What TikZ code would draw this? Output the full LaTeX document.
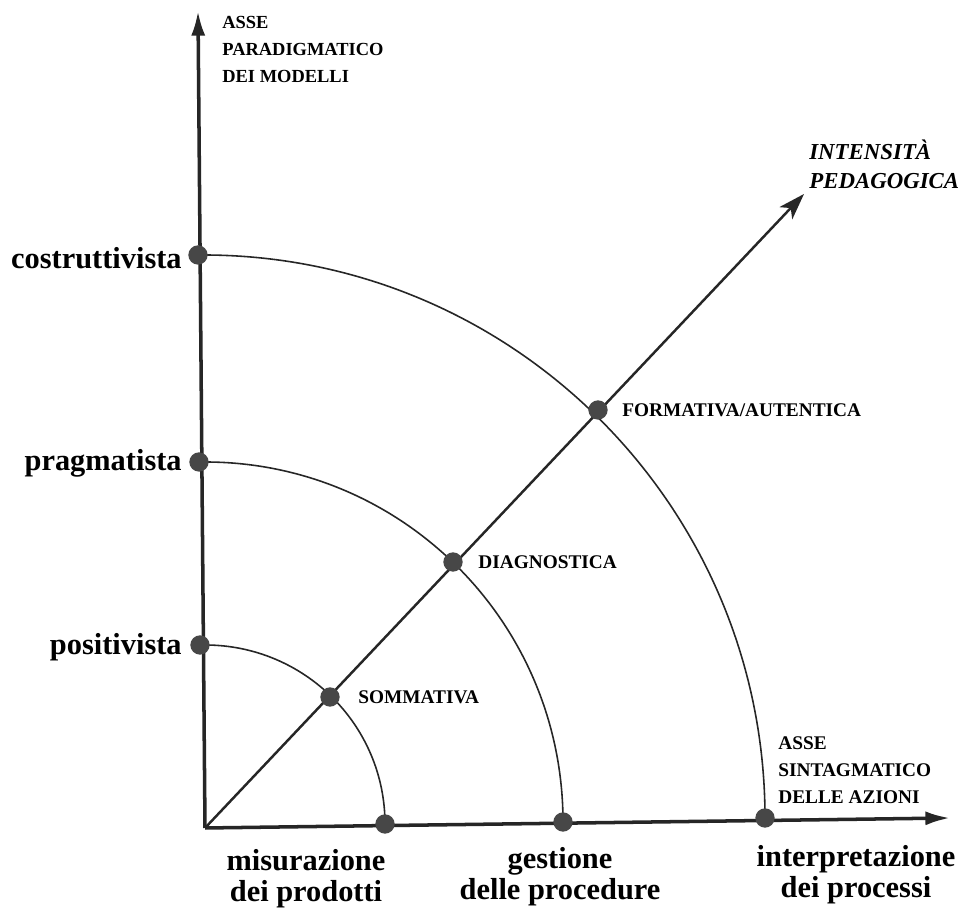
\documentclass[tikz,border=0pt]{standalone}
\usepackage{fontspec}
\setmainfont{Liberation Serif}
\usetikzlibrary{arrows.meta}
\definecolor{ink}{HTML}{262626}
\definecolor{dotc}{HTML}{474747}
\begin{document}
\begin{tikzpicture}[x=0.02cm,y=0.02cm,
  axisline/.style={draw=ink,line width=2pt,-{Latex[length=14pt,width=8pt]}},
  diagline/.style={draw=ink,line width=1.4pt,-{Stealth[length=15pt,width=10pt,inset=4pt]}},
  arcline/.style={draw=ink,line width=0.9pt},
  pt/.style={circle,fill=dotc,inner sep=0pt,minimum size=11pt},
  biglab/.style={font=\fontsize{17.3}{17}\selectfont\bfseries,inner sep=0pt},
  caplab/.style={font=\fontsize{11}{15.3}\selectfont\bfseries,inner sep=0pt},
  itlab/.style={font=\fontsize{13}{16.4}\selectfont\bfseries\itshape,inner sep=0pt}]
\useasboundingbox (0,0) rectangle (963,908);
\fill[white] (0,0) rectangle (963,908);
% axis ends
\coordinate (O) at (205,80);
\coordinate (Ytip) at (198,897);
\coordinate (Xtip) at (950,90);
\coordinate (Dtip) at (804,714);
% arcs
\coordinate (x1) at (385,84);
\coordinate (x2) at (563,86);
\coordinate (x3) at (765,90);
\draw[arcline] (x1) arc[start angle=0,end angle=90,x radius=180,y radius=179] coordinate (a1);
\draw[arcline] (x2) arc[start angle=0,end angle=90,x radius=358,y radius=360] coordinate (a2);
\draw[arcline] (x3) arc[start angle=0,end angle=90,x radius=562,y radius=563] coordinate (a3);
% axes
\draw[axisline] (O) -- (Ytip);
\draw[axisline] (O) -- (Xtip);
\draw[diagline] (O) -- (Dtip);
% dots
\node[pt] (px1) at (x1) {};
\node[pt] (px2) at (x2) {};
\node[pt] (px3) at (x3) {};
\node[pt] (py1) at (200,263) {};
\node[pt] (py2) at (199,446) {};
\node[pt] (py3) at (198,653) {};
\node[pt] (pd1) at (330,211) {};
\node[pt] (pd2) at (453,346) {};
\node[pt] (pd3) at (598,498) {};
% y-axis labels
\node[biglab,anchor=base east] (lc) at (182,639) {costruttivista};
\node[biglab,anchor=base east] (lp) at (182,437) {pragmatista};
\node[biglab,anchor=base east] (lq) at (182,253) {positivista};
% x-axis labels
\node[biglab,anchor=base] (lm) at (306,37) {\begin{tabular}[t]{@{}c@{}}misurazione\\dei prodotti\end{tabular}};
\node[biglab,anchor=base] (lg) at (560,39) {\begin{tabular}[t]{@{}c@{}}gestione\\delle procedure\end{tabular}};
\node[biglab,anchor=base] (li) at (856,41) {\begin{tabular}[t]{@{}c@{}}interpretazione\\dei processi\end{tabular}};
% diagonal labels
\node[caplab,anchor=base west] (ls) at (358,204) {SOMMATIVA};
\node[caplab,anchor=base west] (ld) at (478,339) {DIAGNOSTICA};
\node[caplab,anchor=base west] (lf) at (622,491) {FORMATIVA/AUTENTICA};
% axis titles
\node[caplab,font=\fontsize{10.5}{15.3}\selectfont\bfseries,anchor=base west] (ty) at (222,879) {\begin{tabular}[t]{@{}l@{}}ASSE\\PARADIGMATICO\\DEI MODELLI\end{tabular}};
\node[caplab,anchor=base west] (tx) at (778,158) {\begin{tabular}[t]{@{}l@{}}ASSE\\SINTAGMATICO\\DELLE AZIONI\end{tabular}};
\node[itlab,anchor=base west] (td) at (809,748) {\begin{tabular}[t]{@{}l@{}}INTENSITÀ\\PEDAGOGICA\end{tabular}};
\end{tikzpicture}
\end{document}
